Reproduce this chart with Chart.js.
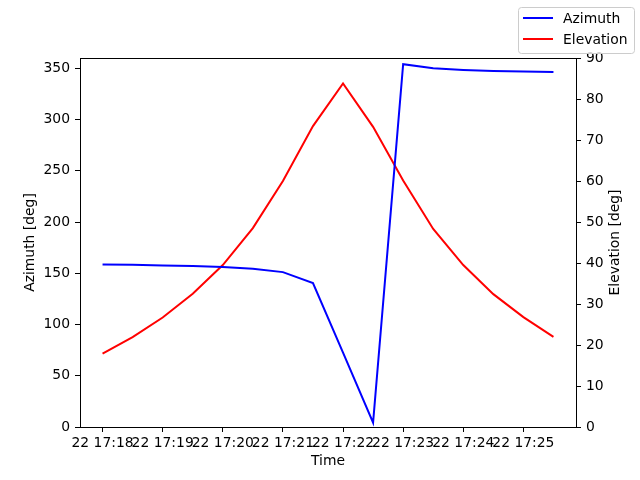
<!DOCTYPE html>
<html>
<head>
<meta charset="utf-8">
<script src="https://cdn.jsdelivr.net/npm/chart.js@4/dist/chart.umd.min.js"></script>
<style>
  html, body { margin: 0; padding: 0; background: #fff; }
  #wrap { width: 640px; height: 480px; }
</style>
</head>
<body>
<div id="wrap"><canvas id="chart" width="640" height="480"></canvas></div>
<script>
// Dados (uma amostra a cada 30 s)
const horarios  = ['17:18:00','17:18:30','17:19:00','17:19:30','17:20:00','17:20:30','17:21:00','17:21:30',
                   '17:22:00','17:22:30','17:23:00','17:23:30','17:24:00','17:24:30','17:25:00','17:25:30'];
const azimute   = [158.6, 158.2, 157.6, 157.0, 156.0, 154.3, 151.1, 140.4,
                   72.5, 4.2, 353.9, 350.0, 348.4, 347.4, 346.8, 346.4];
const elevacao  = [17.9, 21.9, 26.7, 32.5, 39.5, 48.5, 60.0, 73.4,
                   83.8, 73.2, 60.1, 48.3, 39.5, 32.4, 26.8, 22.0];
const rotulosX  = ['22 17:18','22 17:19','22 17:20','22 17:21','22 17:22','22 17:23','22 17:24','22 17:25'];

const FONTE = "'DejaVu Sans', sans-serif";
const TAM = 13.9;

// minutos desde 17:18
const paraMin = h => {
  const [hh, mm, ss] = h.split(':').map(Number);
  return (hh * 60 + mm - (17 * 60 + 18)) + ss / 60;
};
const xs = horarios.map(paraMin);

// moldura completa do eixo (estilo matplotlib)
const moldura = {
  id: 'moldura',
  afterDatasetsDraw(chart) {
    const { ctx, chartArea: a } = chart;
    ctx.save();
    ctx.strokeStyle = '#000';
    ctx.lineWidth = 1;
    ctx.strokeRect(Math.round(a.left) + 0.5, Math.round(a.top) + 0.5,
                   Math.round(a.right - a.left), Math.round(a.bottom - a.top));
    ctx.restore();
  }
};

// título do eixo direito lido de baixo para cima, como no matplotlib
const tituloDireito = {
  id: 'tituloDireito',
  afterDraw(chart) {
    const { ctx, chartArea: a } = chart;
    ctx.save();
    ctx.translate(615, (a.top + a.bottom) / 2);
    ctx.rotate(-Math.PI / 2);
    ctx.font = TAM + 'px ' + FONTE;
    ctx.fillStyle = '#000';
    ctx.textAlign = 'center';
    ctx.textBaseline = 'middle';
    ctx.fillText('Elevation [deg]', 0, 0);
    ctx.restore();
  }
};

// legenda com caixa, fora da área do gráfico
const legendaCaixa = {
  id: 'legendaCaixa',
  afterDraw(chart) {
    const { ctx } = chart;
    const x = 518, y = 7, w = 116, h = 46;
    ctx.save();
    ctx.fillStyle = 'rgba(255,255,255,0.8)';
    ctx.strokeStyle = '#cccccc';
    ctx.lineWidth = 1;
    ctx.beginPath();
    ctx.roundRect(x + 0.5, y + 0.5, w, h, 3);
    ctx.fill();
    ctx.stroke();
    ctx.font = TAM + 'px ' + FONTE;
    ctx.textBaseline = 'middle';
    chart.data.datasets.forEach((ds, i) => {
      const ly = 18 + i * 21;
      ctx.strokeStyle = ds.borderColor;
      ctx.lineWidth = 2;
      ctx.beginPath();
      ctx.moveTo(523, ly);
      ctx.lineTo(553, ly);
      ctx.stroke();
      ctx.fillStyle = '#000';
      ctx.fillText(ds.label, 563, ly + 1);
    });
    ctx.restore();
  }
};

const eixoBase = {
  grid: { drawOnChartArea: false, drawTicks: true, tickLength: 5, color: '#000' },
  border: { display: true, color: '#000', width: 1 },
};

new Chart(document.getElementById('chart').getContext('2d'), {
  type: 'line',
  data: {
    datasets: [
      {
        label: 'Azimuth',
        data: xs.map((x, i) => ({ x, y: azimute[i] })),
        borderColor: '#0000ff',
        borderWidth: 2,
        pointRadius: 0,
        tension: 0,
        yAxisID: 'yAz'
      },
      {
        label: 'Elevation',
        data: xs.map((x, i) => ({ x, y: elevacao[i] })),
        borderColor: '#ff0000',
        borderWidth: 2,
        pointRadius: 0,
        tension: 0,
        yAxisID: 'yEl'
      }
    ]
  },
  options: {
    responsive: false,
    animation: false,
    layout: { padding: { top: 58, left: 0, right: 0, bottom: 0 } },
    plugins: { legend: { display: false }, tooltip: { enabled: false } },
    scales: {
      x: {
        ...eixoBase,
        type: 'linear',
        min: -0.375,
        max: 7.875,
        ticks: {
          stepSize: 1,
          includeBounds: false,
          maxRotation: 0,
          autoSkip: false,
          padding: 3,
          color: '#000',
          font: { family: FONTE, size: TAM },
          callback: v => rotulosX[v] ?? ''
        },
        title: { display: true, text: 'Time', color: '#000', font: { family: FONTE, size: TAM }, padding: { top: 0, bottom: 10 } },
        afterFit: s => { s.height = 53; }
      },
      yAz: {
        ...eixoBase,
        position: 'left',
        min: 0,
        max: 360,
        ticks: {
          stepSize: 50,
          includeBounds: false,
          padding: 5,
          color: '#000',
          font: { family: FONTE, size: TAM }
        },
        title: { display: true, text: 'Azimuth [deg]', color: '#000', font: { family: FONTE, size: TAM }, padding: { top: 22, bottom: 0 } },
        afterFit: s => { s.width = 80; }
      },
      yEl: {
        ...eixoBase,
        position: 'right',
        min: 0,
        max: 90,
        ticks: {
          stepSize: 10,
          padding: 5,
          color: '#000',
          font: { family: FONTE, size: TAM }
        },
        afterFit: s => { s.width = 64; }
      }
    }
  },
  plugins: [moldura, tituloDireito, legendaCaixa]
});
</script>
</body>
</html>
